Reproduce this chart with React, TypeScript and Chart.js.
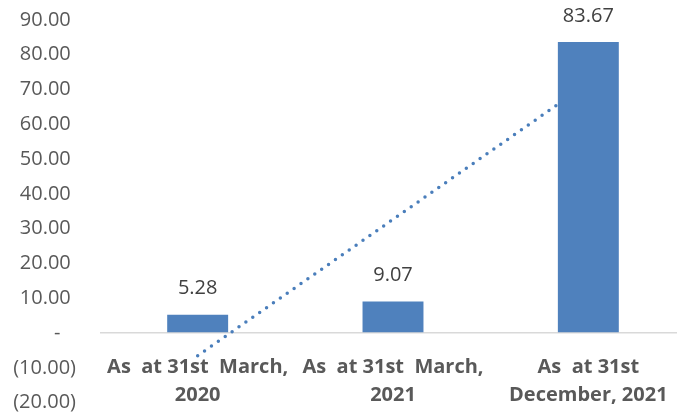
import React, { useEffect, useRef } from "react";
import { Chart, registerables } from "chart.js";

Chart.register(...registerables);

const categories: string[][] = [
  ["As  at 31st  March,", "2020"],
  ["As  at 31st  March,", "2021"],
  ["As  at 31st", "December, 2021"],
];
const barValues: number[] = [5.28, 9.07, 83.67];
const trendValues: number[] = [-6.52, 32.67, 71.87];
const yMin = -20;
const yMax = 90;
const yStep = 10;

const FONT = "'Open Sans', 'Liberation Sans', sans-serif";
const BAR_COLOR = "#4F81BD";
const LINE_COLOR = "#4A7EBB";

function formatTick(v: number): string {
  if (v === 0) return "-   ";
  if (v < 0) return `(${Math.abs(v).toFixed(2)})`;
  return `${v.toFixed(2)} `;
}

const dataLabelPlugin = {
  id: "barValueLabels",
  afterDatasetsDraw(chart: any) {
    const ctx = chart.ctx;
    const meta = chart.getDatasetMeta(0);
    ctx.save();
    ctx.font = `20px ${FONT}`;
    ctx.fillStyle = "#404040";
    ctx.textAlign = "center";
    ctx.textBaseline = "middle";
    meta.data.forEach((bar: any, i: number) => {
      ctx.fillText(barValues[i].toFixed(2), bar.x, bar.y - 26);
    });
    ctx.restore();
  },
};

export default function App() {
  const canvasRef = useRef<HTMLCanvasElement | null>(null);

  useEffect(() => {
    if (!canvasRef.current) return;
    const chart = new Chart(canvasRef.current, {
      type: "bar",
      data: {
        labels: categories,
        datasets: [
          {
            type: "bar",
            data: barValues,
            backgroundColor: BAR_COLOR,
            borderWidth: 0,
            barPercentage: 0.312,
            categoryPercentage: 1,
            order: 0,
          },
          {
            type: "line",
            data: trendValues,
            borderColor: LINE_COLOR,
            borderWidth: 3.5,
            borderDash: [0, 8.4],
            borderCapStyle: "round",
            pointRadius: 0,
            fill: false,
            tension: 0,
            order: 1,
          } as any,
        ],
      },
      plugins: [dataLabelPlugin],
      options: {
        animation: false,
        responsive: true,
        maintainAspectRatio: false,
        layout: { padding: { left: 0, right: 14, top: 20, bottom: 16.4 } },
        plugins: {
          legend: { display: false },
          tooltip: { enabled: false },
        },
        scales: {
          x: {
            position: { y: 0 } as any,
            afterFit: (scale: any) => {
              scale.height = 0;
              scale.paddingLeft = 0;
              scale.paddingRight = 0;
            },
            grid: { display: false, drawTicks: false },
            border: { display: false },
            ticks: {
              color: "#595959",
              font: { family: FONT, size: 20, weight: "bold", lineHeight: 1.4 },
              padding: 20,
              maxRotation: 0,
              autoSkip: false,
            },
          },
          y: {
            min: yMin,
            max: yMax,
            afterFit: (scale: any) => {
              scale.width = 100;
              scale.paddingTop = 0;
              scale.paddingBottom = 0;
            },
            grid: {
              drawTicks: false,
              color: (c: any) => (c.tick && c.tick.value === 0 ? "#D9D9D9" : "rgba(0,0,0,0)"),
              lineWidth: 1.5,
            },
            border: { display: false },
            ticks: {
              stepSize: yStep,
              color: "#595959",
              font: { family: FONT, size: 20 },
              padding: 24,
              callback: (v: any) => formatTick(Number(v)),
            },
          },
        },
      },
    });
    return () => chart.destroy();
  }, []);

  return (
    <div style={{ position: "fixed", left: 0, top: 0, width: 677, height: 419, overflow: "hidden", background: "#fff" }}>
      <div style={{ position: "relative", width: 700, height: 419 }}>
        <canvas ref={canvasRef} />
      </div>
    </div>
  );
}
